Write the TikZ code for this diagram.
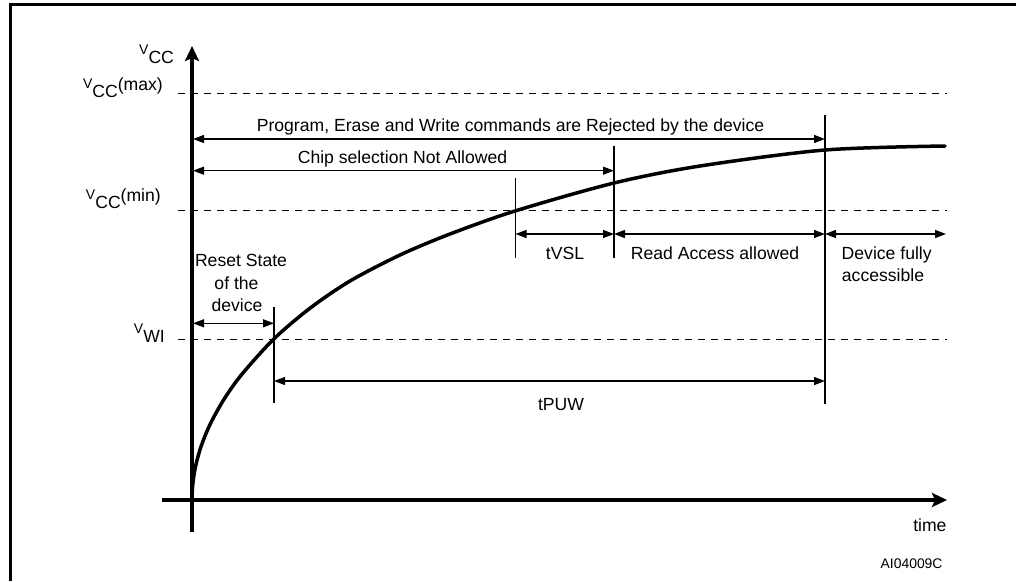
\documentclass[tikz,border=0pt]{standalone}
\usepackage{fontspec}
\setmainfont{Liberation Sans}
\usetikzlibrary{arrows.meta}
\newcommand\mysz{\fontsize{17.6}{21}\selectfont}
\newcommand\vlbl[2]{\raisebox{9pt}{\fontsize{14}{14}\selectfont V}#1\raisebox{7pt}{#2}}
\begin{document}
\begin{tikzpicture}[x=1pt,y=-1pt,
  txt/.style={inner sep=0pt, font=\mysz},
  vaxis/.style={line width=3.5pt, -{Stealth[length=15pt,width=14pt,inset=3pt]}},
  dimline/.style={line width=1.2pt, {Triangle[length=11pt,width=8pt]}-{Triangle[length=11pt,width=8pt]}},
  vtick/.style={line width=1.1pt},
  levelline/.style={line width=1pt, dash pattern=on 7pt off 6pt},
  vcurve/.style={line width=3.5pt, line join=round, line cap=round}]
\useasboundingbox (0,0) rectangle (1016,581);
% frame
\draw[line width=3pt] (10,581) -- (10,4.5) -- (1016,4.5);
% coordinates
\coordinate (ytop) at (192,46);
\coordinate (ybot) at (192,532);
\coordinate (xl) at (162,500);
\coordinate (xr) at (947,500);
\coordinate (maxL) at (178,93);  \coordinate (maxR) at (947,93);
\coordinate (minL) at (178,210); \coordinate (minR) at (947,210);
\coordinate (wiL) at (178,339);  \coordinate (wiR) at (947,339);
\coordinate (t1a) at (274,307);  \coordinate (t1b) at (274,403);
\coordinate (t2a) at (515.5,178); \coordinate (t2b) at (515.5,258);
\coordinate (t3a) at (614,146);  \coordinate (t3b) at (614,258);
\coordinate (t4a) at (825,115);  \coordinate (t4b) at (825,404);
\coordinate (pL) at (193,139); \coordinate (pR) at (825,139);
\coordinate (cL) at (193,170.7); \coordinate (cR) at (614,170.7);
\coordinate (rL) at (193,323.3); \coordinate (rR) at (274,323.3);
\coordinate (vA) at (515.5,234); \coordinate (vB) at (614,234);
\coordinate (vC) at (825,234); \coordinate (vD) at (946,234);
\coordinate (uL) at (274,381); \coordinate (uR) at (825,381);
% level lines
\draw[levelline] (maxL) -- (maxR);
\draw[levelline] (minL) -- (minR);
\draw[levelline] (wiL) -- (wiR);
% axes
\draw[vaxis] (ybot) -- (ytop);
\draw[vaxis] (xl) -- (xr);
% curve
\draw[vcurve] plot[smooth] coordinates {(192,500) (192.3,490.2) (193.5,478.2) (196,464.4) (201,446.6) (210,424.5) (224,399.3) (242,374.1) (274,338.8) (310,308.2) (350,281) (400,255) (450,234) (515,211) (614,183) (700,166) (825,150) (945,146)};
% ticks
\draw[vtick] (t1a) -- (t1b);
\draw[vtick] (t2a) -- (t2b);
\draw[vtick] (t3a) -- (t3b);
\draw[vtick] (t4a) -- (t4b);
% dimension arrows
\draw[dimline] (pL) -- (pR);
\draw[dimline] (cL) -- (cR);
\draw[dimline] (rL) -- (rR);
\draw[dimline] (vA) -- (vB);
\draw[dimline] (vB) -- (vC);
\draw[dimline] (vC) -- (vD);
\draw[dimline] (uL) -- (uR);
% texts
\node[txt, anchor=base] (prog) at (510.5,131.7) {Program, Erase and Write commands are Rejected by the device};
\node[txt, anchor=base] (chip) at (402.5,163) {Chip selection Not Allowed};
\node[txt, anchor=base] (tvsl) at (565,259) {tVSL};
\node[txt, anchor=base] (read) at (715,259) {Read Access allowed};
\node[txt, anchor=base] (dev1) at (886.7,259) {Device fully};
\node[txt, anchor=base] (dev2) at (883,281.7) {accessible};
\node[txt, anchor=base] (rst1) at (241,266.7) {Reset State};
\node[txt, anchor=base] (rst2) at (236.5,289) {of the};
\node[txt, anchor=base] (rst3) at (237,311.7) {device};
\node[txt, anchor=base] (tpuw) at (561,410) {tPUW};
\node[txt, anchor=base east] (time) at (946.7,531.7) {time};
\node[txt, anchor=base east, font=\fontsize{13.9}{16}\selectfont] (ai) at (942.7,568) {AI04009C};
\node[txt, anchor=base west] (vcc) at (139,63) {\vlbl{CC}{}};
\node[txt, anchor=base east] (vmax) at (163,97) {\vlbl{CC}{(max)}};
\node[txt, anchor=base east] (vmin) at (161,208) {\vlbl{CC}{(min)}};
\node[txt, anchor=base east] (vwi) at (165,342) {\vlbl{WI}{}};
\end{tikzpicture}
\end{document}
